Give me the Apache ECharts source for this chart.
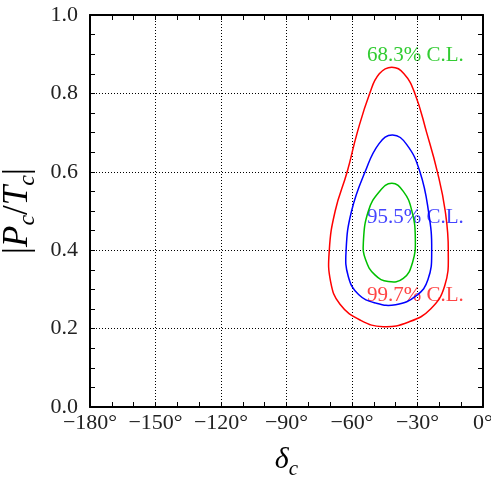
<!DOCTYPE html>
<html>
<head>
<meta charset="utf-8">
<script src="https://cdn.jsdelivr.net/npm/echarts@6/dist/echarts.min.js"></script>
<style>
  html, body { margin: 0; padding: 0; background: #fff; }
  #main { width: 491px; height: 477px; }
</style>
</head>
<body>
<div id="main"></div>
<script>
// 轴刻度
var xTicks = [-180, -150, -120, -90, -60, -30, 0];
var yTicks = [0, 0.2, 0.4, 0.6, 0.8, 1.0];

// 置信区间轮廓 [delta_c (deg), |Pc/Tc|]，从顶点顺时针（闭合曲线）
var cl683 = [
    [-41.8, 0.571], [-36.5, 0.550], [-32.7, 0.503], [-31.0, 0.430], [-32.3, 0.368],
    [-36.5, 0.328], [-43.4, 0.320], [-49.5, 0.337], [-53.8, 0.376], [-54.8, 0.420],
    [-52.5, 0.500], [-47.5, 0.549]
];
var cl955 = [
    [-41.4, 0.694], [-35.0, 0.670], [-28.9, 0.600], [-25.0, 0.500], [-23.5, 0.400],
    [-25.2, 0.325], [-30.5, 0.284], [-40.0, 0.261], [-49.0, 0.265], [-57.0, 0.287],
    [-61.7, 0.333], [-62.7, 0.400], [-60.2, 0.500], [-54.0, 0.600], [-47.6, 0.672]
];
var cl997 = [
    [-41.8, 0.867], [-36.2, 0.850], [-31.2, 0.800], [-25.8, 0.700], [-20.9, 0.600],
    [-17.3, 0.500], [-15.9, 0.400], [-17.5, 0.310], [-24.0, 0.250], [-34.0, 0.217],
    [-45.7, 0.205], [-56.0, 0.221], [-65.5, 0.262], [-69.8, 0.320], [-70.4, 0.400],
    [-67.7, 0.500], [-62.2, 0.600], [-57.6, 0.700], [-51.9, 0.800], [-47.5, 0.850]
];

var serif = '"Liberation Serif", "DejaVu Serif", serif';
var chartDom = document.getElementById('main');
var myChart = echarts.init(chartDom);

function degLabel(v) {
    return (v < 0 ? '\u2212' + (-v) : v) + '\u00b0';
}

var frame = { show: true, onZero: false, lineStyle: { color: '#000', width: 2 } };
var tick = { show: true, inside: true, length: 5, lineStyle: { color: '#000' } };
var grid = { show: true, lineStyle: { color: '#000', type: [1, 2], width: 1 } };

// 闭合轮廓：用 custom 系列画平滑多边形，坐标走 api.coord
function contour(data, color) {
    return {
        type: 'custom',
        data: data,
        encode: { x: 0, y: 1 },
        silent: true,
        renderItem: function (params, api) {
            if (params.dataIndex !== 0) return;
            var pts = data.map(function (p) { return api.coord(p); });
            return {
                type: 'polygon',
                shape: { points: pts, smooth: 0.45 },
                style: { fill: 'none', stroke: color, lineWidth: 1.5 }
            };
        }
    };
}

var option = {
    animation: false,
    grid: { left: 90, right: 8, top: 15, bottom: 70, outerBoundsMode: 'none', containLabel: false },
    xAxis: [
        {
            type: 'value', min: -180, max: 0, interval: 30,
            axisLine: frame, axisTick: tick,
            minorTick: { show: true, splitNumber: 3, length: 5, lineStyle: { color: '#000' } },
            splitLine: grid,
            axisLabel: { formatter: degLabel, fontFamily: serif, fontSize: 22, color: '#222', margin: 5 },
            name: '{i|δ}{s|c}', nameLocation: 'middle', nameGap: 34,
            nameTextStyle: {
                rich: {
                    i: { fontFamily: serif, fontStyle: 'italic', fontSize: 30, color: '#000' },
                    s: { fontFamily: serif, fontStyle: 'italic', fontSize: 21, color: '#000', padding: [18, 0, 0, 0] }
                }
            }
        },
        {
            type: 'value', position: 'top', min: -180, max: 0, interval: 30,
            axisLine: frame, axisTick: tick,
            minorTick: { show: true, splitNumber: 3, length: 5, lineStyle: { color: '#000' } },
            axisLabel: { show: false }, splitLine: { show: false }
        }
    ],
    yAxis: [
        {
            type: 'value', min: 0, max: 1, interval: 0.2,
            axisLine: frame, axisTick: tick,
            minorTick: { show: true, splitNumber: 4, length: 5, lineStyle: { color: '#000' } },
            splitLine: grid,
            axisLabel: {
                formatter: function (v) { return v.toFixed(1); },
                fontFamily: serif, fontSize: 22, color: '#222', margin: 12
            },
            name: '{v||}{i|P}{s|c}{v|/}{i|T}{s|c}{v||}', nameLocation: 'middle', nameGap: 39, nameRotate: 90,
            nameTextStyle: {
                rich: {
                    v: { fontFamily: serif, fontSize: 35, color: '#000' },
                    i: { fontFamily: serif, fontStyle: 'italic', fontSize: 35, color: '#000' },
                    s: { fontFamily: serif, fontStyle: 'italic', fontSize: 24, color: '#000', padding: [20, 0, 0, 0] }
                }
            }
        },
        {
            type: 'value', position: 'right', min: 0, max: 1, interval: 0.2,
            axisLine: frame, axisTick: tick,
            minorTick: { show: true, splitNumber: 4, length: 5, lineStyle: { color: '#000' } },
            axisLabel: { show: false }, splitLine: { show: false }
        }
    ],
    graphic: [
        { type: 'text', left: 367, top: 45, style: { text: '68.3% C.L.', fill: '#33cc33', font: '21px ' + serif } },
        { type: 'text', left: 367, top: 207, style: { text: '95.5% C.L.', fill: '#4444ff', font: '21px ' + serif } },
        { type: 'text', left: 367, top: 285, style: { text: '99.7% C.L.', fill: '#ff4444', font: '21px ' + serif } }
    ],
    series: [
        contour(cl683, '#00c000'),
        contour(cl955, '#0000ff'),
        contour(cl997, '#ff0000')
    ]
};
myChart.setOption(option);
</script>
</body>
</html>
